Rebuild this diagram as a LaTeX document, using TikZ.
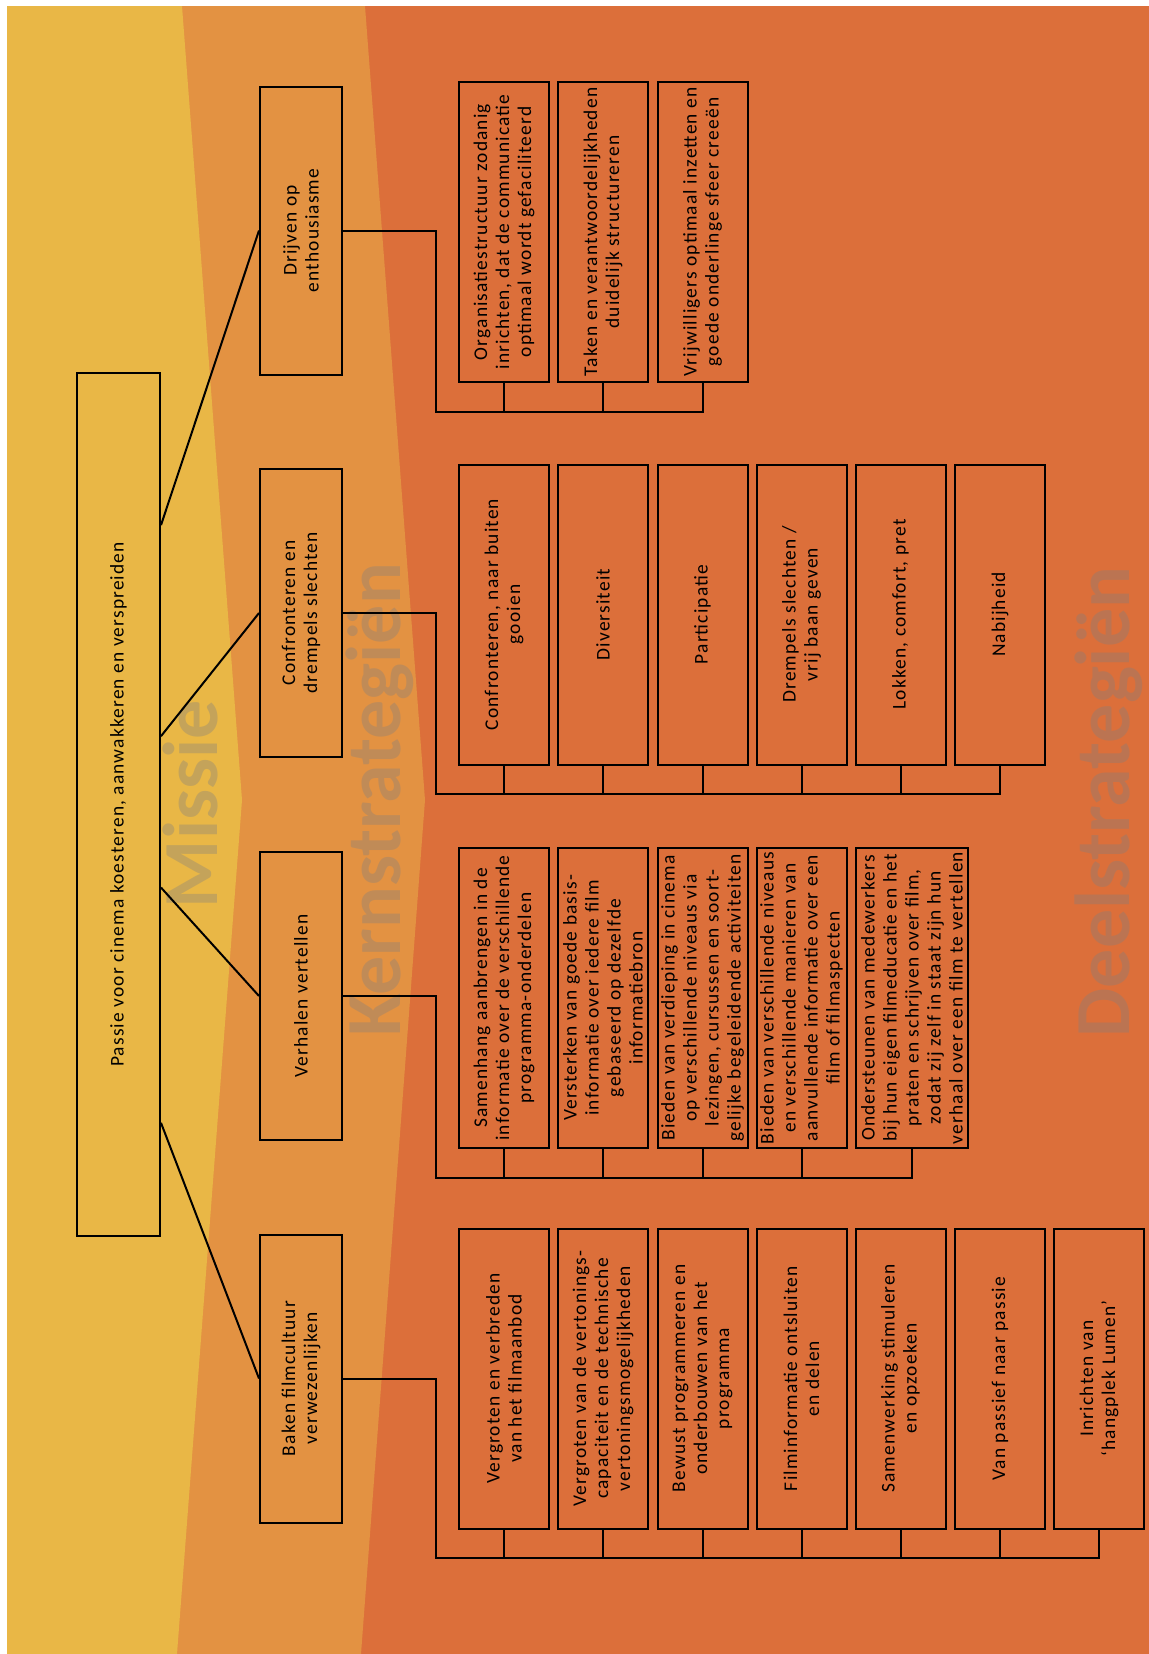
\documentclass[tikz,border=0pt]{standalone}
\usepackage{fontspec}
\setmainfont{Carlito}[LetterSpace=6]
\newfontfamily\wordfont{Carlito}
\usetikzlibrary{calc}
\definecolor{missie}{RGB}{233,183,70}
\definecolor{kern}{RGB}{227,146,66}
\definecolor{deel}{RGB}{220,111,58}
\begin{document}
\begin{tikzpicture}[x=0.5pt,y=-0.5pt]
\tikzset{box/.style = {shape=rectangle,draw,line width=1pt,rotate=90,align=center,inner sep=1pt,font=\fontsize{9.7}{11}\selectfont}}
\tikzset{topbox/.style = {box,minimum width=431.5pt,minimum height=41.5pt}}
\tikzset{kernbox/.style = {box,minimum width=144pt,minimum height=41pt}}
\tikzset{deelbox/.style = {box,minimum width=150pt,minimum height=45pt}}
\tikzset{bgword/.style = {rotate=90,anchor=base,inner sep=0pt,text=gray,text opacity=0.35,font=\wordfont\bfseries\fontsize{39}{39}\selectfont}}
\tikzset{link/.style = {line width=1pt}}
\useasboundingbox (0,0) rectangle (1149,1654);
% achtergrond
\fill[white] (0,0) rectangle (1149,1654);
\fill[deel] (7,6) rectangle (1149,1654);
\fill[kern] (7,6) -- (365,6) -- (425,800) -- (361,1654) -- (7,1654) -- cycle;
\fill[missie] (7,6) -- (182,6) -- (242,800) -- (177,1654) -- (7,1654) -- cycle;
\node[bgword] (wm) at (217,804) {Missie};
\node[bgword] (wk) at (400,800) {Kernstrategiën};
\node[bgword] (wd) at (1129,802) {Deelstrategiën};
% missie en kernstrategieen
\node[topbox] (top) at (118.5,804.5) {Passie voor cinema koesteren, aanwakkeren en verspreiden};
\node[kernbox] (k1) at (301,230.5) {Drijven op\\ enthousiasme};
\node[kernbox] (k2) at (301,613) {Confronteren en\\ drempels slechten};
\node[kernbox] (k3) at (301,996) {Verhalen vertellen};
\node[kernbox] (k4) at (301,1378.5) {Baken filmcultuur\\ verwezenlijken};
% deelstrategieen
\node[deelbox] (d11) at (504,232) {Organisatiestructuur zodanig\\ inrichten, dat de communicatie\\ optimaal wordt gefaciliteerd};
\node[deelbox] (d12) at (603,232) {Taken en verantwoordelijkheden\\ duidelijk structureren};
\node[deelbox] (d13) at (702.5,232) {Vrijwilligers optimaal inzetten en\\ goede onderlinge sfeer creeën};
\node[deelbox] (d21) at (504,614.5) {Confronteren, naar buiten\\ gooien};
\node[deelbox] (d22) at (603,614.5) {Diversiteit};
\node[deelbox] (d23) at (702.5,614.5) {Participatie};
\node[deelbox] (d24) at (801.5,614.5) {Drempels slechten /\\ vrij baan geven};
\node[deelbox] (d25) at (900.5,614.5) {Lokken, comfort, pret};
\node[deelbox] (d26) at (1000,614.5) {Nabijheid};
\node[deelbox] (d31) at (504,998) {Samenhang aanbrengen in de\\ informatie over de verschillende\\ programma-onderdelen};
\node[deelbox] (d32) at (603,998) {Versterken van goede basis-\\ informatie over iedere film\\ gebaseerd op dezelfde\\ informatiebron};
\node[deelbox] (d33) at (702.5,998) {Bieden van verdieping in cinema\\ op verschillende niveaus via\\ lezingen, cursussen en soort-\\ gelijke begeleidende activiteiten};
\node[deelbox] (d34) at (801.5,998) {Bieden van verschillende niveaus\\ en verschillende manieren van\\ aanvullende informatie over een\\ film of filmaspecten};
\node[deelbox,minimum height=56pt] (d35) at (912,998) {Ondersteunen van medewerkers\\ bij hun eigen filmeducatie en het\\ praten en schrijven over film,\\ zodat zij zelf in staat zijn hun\\ verhaal over een film te vertellen};
\node[deelbox] (d41) at (504,1378.5) {Vergroten en verbreden\\ van het filmaanbod};
\node[deelbox] (d42) at (603,1378.5) {Vergroten van de vertonings-\\ capaciteit en de technische\\ vertoningsmogelijkheden};
\node[deelbox] (d43) at (702.5,1378.5) {Bewust programmeren en\\ onderbouwen van het\\ programma};
\node[deelbox] (d44) at (801.5,1378.5) {Filminformatie ontsluiten\\ en delen};
\node[deelbox] (d45) at (900.5,1378.5) {Samenwerking stimuleren\\ en opzoeken};
\node[deelbox] (d46) at (1000,1378.5) {Van passief naar passie};
\node[deelbox] (d47) at (1099,1378.5) {Inrichten van\\ `hangplek Lumen'};
% verbindingen
\path[link]
($(top.south east)!0.177!(top.south west)$) edge (k1.north)
($(top.south east)!0.421!(top.south west)$) edge (k2.north)
($(top.south east)!0.596!(top.south west)$) edge (k3.north)
($(top.south east)!0.868!(top.south west)$) edge (k4.north);
\coordinate (b1) at (436,412);
\coordinate (b2) at (436,794);
\coordinate (b3) at (436,1178);
\coordinate (b4) at (436,1558);
\draw[link] (k1.south) -| (b1) -| (d13.west);
\draw[link] (k2.south) -| (b2) -| (d26.west);
\draw[link] (k3.south) -| (b3) -| (d35.west);
\draw[link] (k4.south) -| (b4) -| (d47.west);
\path[link]
(d11.west) edge (d11.west |- b1)
(d12.west) edge (d12.west |- b1)
(d21.west) edge (d21.west |- b2)
(d22.west) edge (d22.west |- b2)
(d23.west) edge (d23.west |- b2)
(d24.west) edge (d24.west |- b2)
(d25.west) edge (d25.west |- b2)
(d31.west) edge (d31.west |- b3)
(d32.west) edge (d32.west |- b3)
(d33.west) edge (d33.west |- b3)
(d34.west) edge (d34.west |- b3)
(d41.west) edge (d41.west |- b4)
(d42.west) edge (d42.west |- b4)
(d43.west) edge (d43.west |- b4)
(d44.west) edge (d44.west |- b4)
(d45.west) edge (d45.west |- b4)
(d46.west) edge (d46.west |- b4);
\end{tikzpicture}
\end{document}
